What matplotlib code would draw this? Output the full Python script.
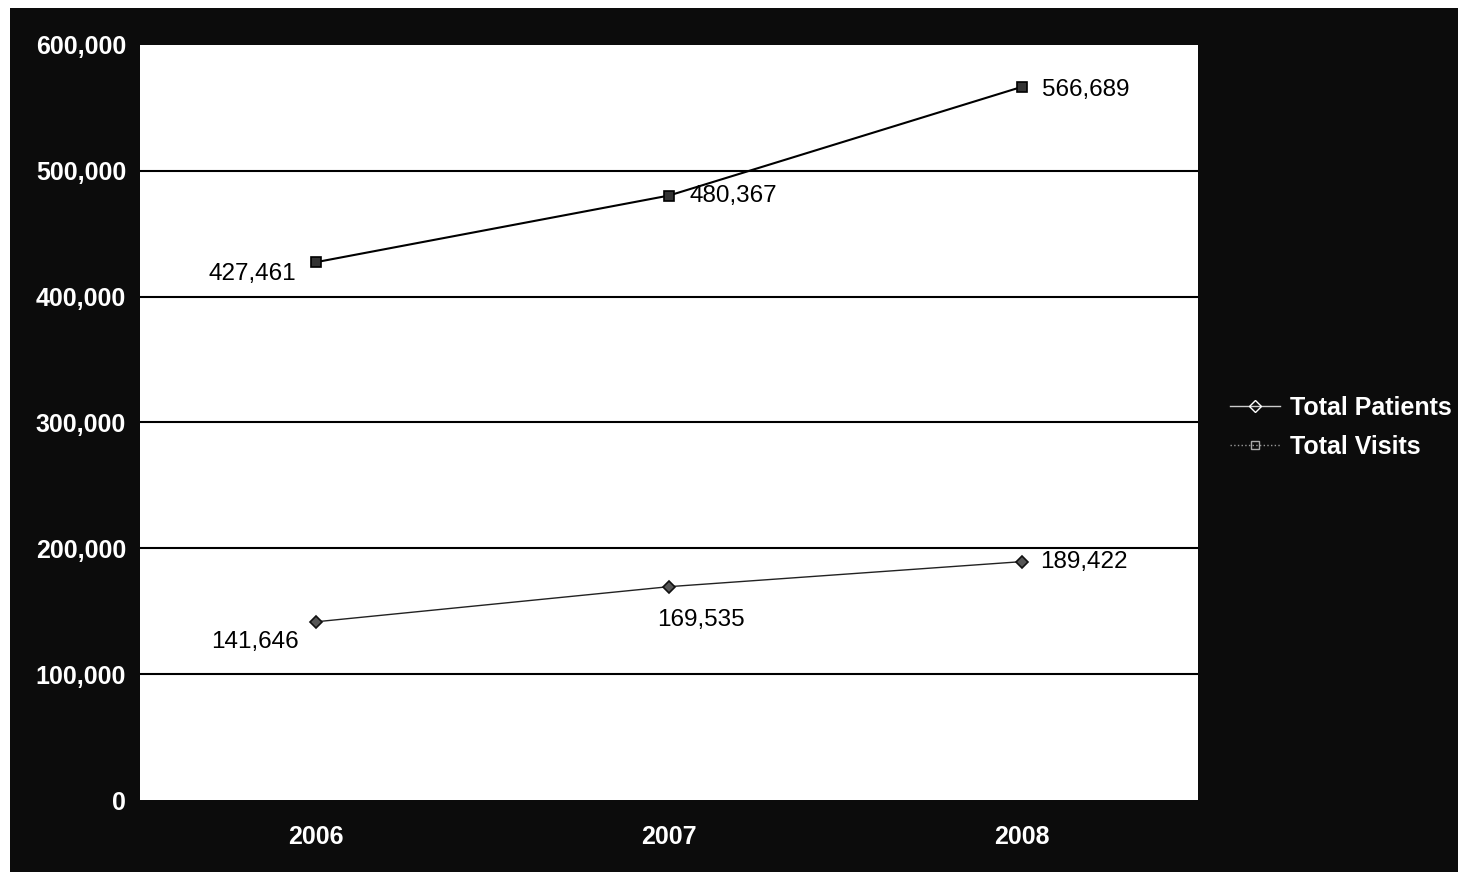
import matplotlib
matplotlib.use("Agg")
import matplotlib.pyplot as plt
from matplotlib.patches import Rectangle
from matplotlib.lines import Line2D

years = ["2006", "2007", "2008"]
total_patients = [141646, 169535, 189422]
total_visits = [427461, 480367, 566689]
y_ticks = [0, 100000, 200000, 300000, 400000, 500000, 600000]

plt.rcParams['font.family'] = ['Liberation Sans', 'DejaVu Sans']

W, H = 1465, 872
fig = plt.figure(figsize=(W/100, H/100), dpi=100, facecolor='white')
fig.patches.append(Rectangle((10/W, 0), (1458-10)/W, 1 - 8/H, transform=fig.transFigure,
                             facecolor='#0c0c0c', edgecolor='none', zorder=-5))

left, right, top, bottom = 140, 1198, 45, 800
ax = fig.add_axes([left/W, 1 - bottom/H, (right-left)/W, (bottom-top)/H])
ax.set_zorder(2)
ax.set_facecolor('white')

x = range(len(years))
ax.plot(x, total_patients, color='#222222', lw=1.0, marker='D', ms=6,
        mfc='#555555', mec='#111111', mew=1.2, zorder=3)
ax.plot(x, total_visits, color='black', lw=1.5, marker='s', ms=7,
        mfc='#333333', mec='black', mew=1.2, zorder=3)

ax.set_xlim(-0.5, 2.5)
ax.set_ylim(0, 600000)
ax.set_yticks(y_ticks)
ax.set_yticklabels([f"{v:,}" for v in y_ticks])
ax.set_xticks(list(x))
ax.set_xticklabels(years)
for v in y_ticks[1:-1]:
    ax.axhline(v, color='black', lw=1.5, zorder=1)
for s in ax.spines.values():
    s.set_visible(False)
ax.tick_params(axis='both', length=0, colors='white', labelsize=18)
ax.tick_params(axis='y', pad=10)
ax.tick_params(axis='x', pad=18)
for lab in ax.get_xticklabels() + ax.get_yticklabels():
    lab.set_fontweight('bold')

fs = 17.5
offsets_v = [(-20, -12, 'right'), (20, 0, 'left'), (20, -3, 'left')]
for i, (v, (dx, dy, ha)) in enumerate(zip(total_visits, offsets_v)):
    ax.annotate(f"{v:,}", (i, v), xytext=(dx, dy), textcoords='offset pixels',
                ha=ha, va='center', fontsize=fs, color='black')
offsets_p = [(-18, -20, 'right'), (32, -33, 'center'), (18, 0, 'left')]
for i, (v, (dx, dy, ha)) in enumerate(zip(total_patients, offsets_p)):
    ax.annotate(f"{v:,}", (i, v), xytext=(dx, dy), textcoords='offset pixels',
                ha=ha, va='center', fontsize=fs, color='black')

handles = [
    Line2D([], [], color='#cccccc', lw=1, marker='D', ms=6, mfc='none', mec='white'),
    Line2D([], [], color='#999999', lw=1, ls=':', marker='s', ms=6, mfc='none', mec='#aaaaaa'),
]
leg = fig.legend(handles, ["Total Patients", "Total Visits"], loc='center left',
                 bbox_to_anchor=(1207/W, 1 - 427/H), frameon=False,
                 handlelength=2.0, handletextpad=0.4, labelspacing=0.6,
                 prop={'weight': 'bold', 'size': 18})
for t in leg.get_texts():
    t.set_color('white')

fig.savefig("out.png", dpi=100, facecolor=fig.get_facecolor())
